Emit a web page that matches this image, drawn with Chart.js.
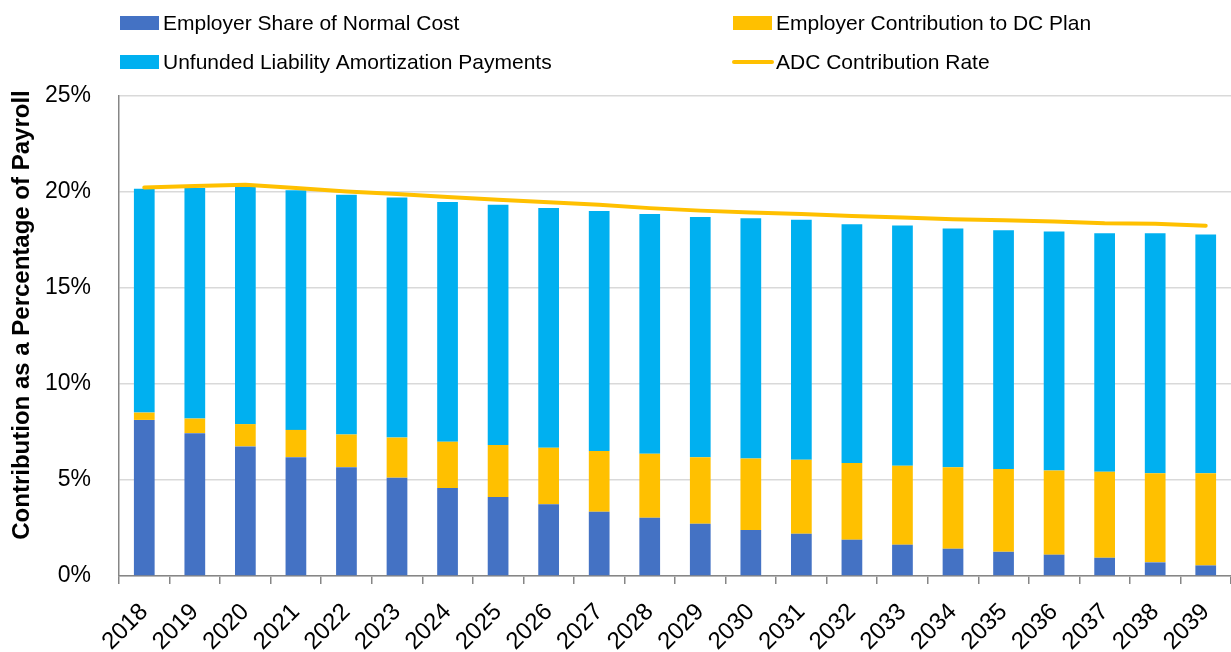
<!DOCTYPE html>
<html>
<head>
<meta charset="utf-8">
<title>Contribution as a Percentage of Payroll</title>
<script src="https://cdn.jsdelivr.net/npm/chart.js@4"></script>
<style>
  html, body { margin: 0; padding: 0; background: #ffffff; }
  #wrap { position: relative; width: 1231px; height: 652px; }
</style>
</head>
<body>
<div id="wrap"><canvas id="grafico"></canvas></div>
<script>
// Valuation years
var years = ['2018', '2019', '2020', '2021', '2022', '2023', '2024', '2025', '2026', '2027', '2028',
             '2029', '2030', '2031', '2032', '2033', '2034', '2035', '2036', '2037', '2038', '2039'];

// Percent of payroll
var normalCost = [8.13, 7.44, 6.75, 6.19, 5.67, 5.12, 4.58, 4.12, 3.74, 3.34, 3.03,
                  2.72, 2.40, 2.20, 1.89, 1.63, 1.42, 1.26, 1.11, 0.95, 0.71, 0.55];
var dcPlan = [0.38, 0.76, 1.16, 1.42, 1.70, 2.09, 2.41, 2.70, 2.94, 3.17, 3.34,
              3.47, 3.72, 3.86, 3.99, 4.11, 4.24, 4.31, 4.39, 4.48, 4.64, 4.80];
var amortization = [11.66, 12.01, 12.35, 12.48, 12.49, 12.50, 12.49, 12.51, 12.49, 12.50, 12.49,
                    12.51, 12.51, 12.49, 12.44, 12.51, 12.44, 12.44, 12.44, 12.42, 12.50, 12.44];
var adcRate = [20.24, 20.31, 20.38, 20.21, 20.03, 19.90, 19.74, 19.60, 19.46, 19.33, 19.16,
               19.03, 18.93, 18.86, 18.75, 18.67, 18.58, 18.53, 18.46, 18.37, 18.34, 18.24];

var yTicks = [0, 5, 10, 15, 20, 25];
var yTitle = 'Contribution as a Percentage of Payroll';

var FONT = '"Liberation Sans", Arial, sans-serif';

// Legend in two fixed columns + the y title, like the Excel original
var legendPlugin = {
    id: 'legendaFixa',
    afterDraw: function (chart) {
        var ctx = chart.ctx;
        var spots = [
            {x: 120, y: 16}, // normal cost
            {x: 733, y: 16}, // DC plan
            {x: 120, y: 55}, // amortization
            {x: 733, y: 55}  // ADC line
        ];
        ctx.save();
        ctx.font = '21px ' + FONT;
        ctx.textBaseline = 'alphabetic';
        ctx.textAlign = 'left';
        chart.data.datasets.forEach(function (ds, i) {
            var p = spots[i];
            if (ds.type === 'line') {
                ctx.strokeStyle = ds.borderColor;
                ctx.lineWidth = 4;
                ctx.lineCap = 'round';
                ctx.beginPath();
                ctx.moveTo(p.x + 1, p.y + 7);
                ctx.lineTo(p.x + 39, p.y + 7);
                ctx.stroke();
            } else {
                ctx.fillStyle = ds.backgroundColor;
                ctx.fillRect(p.x, p.y, 39, 14);
            }
            ctx.fillStyle = '#000000';
            ctx.fillText(ds.label, p.x + 43, p.y + 14);
        });

        // y axis title, a bit above the middle of the plot like the original
        ctx.translate(22, 315);
        ctx.rotate(-Math.PI / 2);
        ctx.font = 'bold 24px ' + FONT;
        ctx.textAlign = 'center';
        ctx.textBaseline = 'middle';
        ctx.fillStyle = '#000000';
        ctx.fillText(yTitle, 0, 0);
        ctx.restore();
    }
};

document.addEventListener('DOMContentLoaded', function () {
    var ctx = document.getElementById('grafico').getContext('2d');
    new Chart(ctx, {
        data: {
            labels: years,
            datasets: [{
                type: 'bar',
                label: 'Employer Share of Normal Cost',
                data: normalCost,
                backgroundColor: '#4472C4',
                stack: 'custo',
                order: 1
            }, {
                type: 'bar',
                label: 'Employer Contribution to DC Plan',
                data: dcPlan,
                backgroundColor: '#FFC000',
                stack: 'custo',
                order: 1
            }, {
                type: 'bar',
                label: 'Unfunded Liability Amortization Payments',
                data: amortization,
                backgroundColor: '#00B0F0',
                stack: 'custo',
                order: 1
            }, {
                type: 'line',
                label: 'ADC Contribution Rate',
                data: adcRate,
                borderColor: '#FFC000',
                backgroundColor: '#FFC000',
                borderWidth: 4,
                borderCapStyle: 'round',
                borderJoinStyle: 'round',
                pointRadius: 0,
                tension: 0,
                fill: false,
                stack: 'adc',
                order: 0
            }]
        },
        options: {
            responsive: true,
            maintainAspectRatio: false,
            animation: false,
            layout: {
                padding: {top: 96, left: 0, right: 0, bottom: 0}
            },
            datasets: {
                bar: {
                    categoryPercentage: 1,
                    barPercentage: 0.41
                }
            },
            scales: {
                x: {
                    stacked: true,
                    offset: true,
                    afterFit: function (axis) {
                        axis.height = 76;
                        axis.paddingLeft = 0;
                        axis.paddingRight = 0;
                    },
                    grid: {
                        offset: true,
                        drawOnChartArea: false,
                        drawTicks: true,
                        tickLength: 8,
                        color: '#868686',
                        lineWidth: 1.5
                    },
                    border: { color: '#868686', width: 1.5 },
                    ticks: {
                        font: { family: FONT, size: 24 },
                        color: '#000000',
                        minRotation: 45,
                        maxRotation: 45,
                        autoSkip: false,
                        padding: 14
                    }
                },
                y: {
                    stacked: true,
                    min: 0,
                    max: 25,
                    afterFit: function (axis) { axis.width = 119; },
                    afterBuildTicks: function (axis) {
                        axis.ticks = yTicks.map(function (v) { return {value: v}; });
                    },
                    grid: {
                        color: '#D9D9D9',
                        lineWidth: 1.5,
                        drawTicks: false
                    },
                    border: { color: '#868686', width: 1.5 },
                    ticks: {
                        font: { family: FONT, size: 23 },
                        color: '#000000',
                        padding: 28,
                        callback: function (v) { return v + '%'; }
                    }
                }
            },
            plugins: {
                legend: { display: false },
                tooltip: { enabled: false }
            }
        },
        plugins: [legendPlugin]
    });
});
</script>
</body>
</html>
